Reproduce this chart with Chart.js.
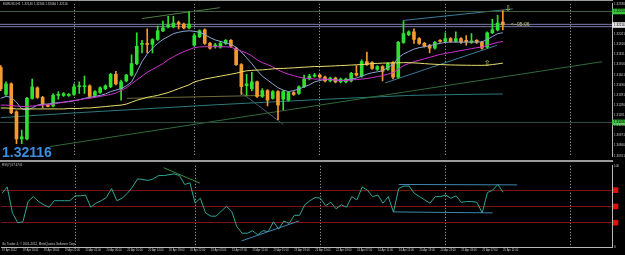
<!DOCTYPE html>
<html>
<head>
<meta charset="utf-8">
<script src="https://cdn.jsdelivr.net/npm/chart.js@4.4.0/dist/chart.umd.min.js"></script>
<style>
  html, body { margin: 0; padding: 0; background: #000; }
  #wrap { position: relative; width: 625px; height: 255px; overflow: hidden; background: #000; }
  #top { position: absolute; left: 0; top: 0; }
  #bot { position: absolute; left: 0; top: 162px; }
  .sep { position: absolute; left: 0; width: 613px; background: #9a9a9a; }
</style>
</head>
<body>
<div id="wrap">
  <canvas id="top" width="625" height="160"></canvas>
  <div class="sep" style="top:0;height:1px"></div>
  <div class="sep" style="top:160px;height:2px"></div>
  <canvas id="bot" width="625" height="93"></canvas>
</div>
<script>
// EURUSD H1, 19 Apr 2012 10:00 .. 25 Apr 2012 11:00 (one entry per bar)
const symbol = 'EURUSD,H1';
const opens = [1.31676,1.31396,1.31506,1.31216,1.30936,1.30936,1.31356,1.31466,1.31366,1.31286,
  1.31276,1.31386,1.31386,1.31386,1.31396,1.31476,1.31476,1.31486,1.31386,1.31416,
  1.31456,1.31476,1.31606,1.31456,1.31536,1.31596,1.31716,1.31916,1.31926,1.31916,
  1.31966,1.32056,1.32096,1.32096,1.32136,1.32126,1.32086,1.31906,1.31996,1.32066,
  1.31926,1.31896,1.31886,1.31926,1.31956,1.31876,1.31706,1.31486,1.31456,1.31526,
  1.31376,1.31436,1.31356,1.31426,1.31346,1.31336,1.31416,1.31406,1.31476,1.31556,
  1.31586,1.31596,1.31576,1.31536,1.31566,1.31526,1.31526,1.31536,1.31616,1.31586,
  1.31736,1.31726,1.31656,1.31686,1.31656,1.31726,1.31576,1.31936,1.32016,1.32046,
  1.31976,1.31926,1.31906,1.31876,1.31956,1.31946,1.31976,1.31946,1.31976,1.31956,
  1.31936,1.31956,1.31936,1.31886,1.32036,1.32066,1.32146];
const highs = [1.31696,1.31526,1.31516,1.31226,1.31026,1.31366,1.31556,1.31476,1.31376,1.31296,
  1.31406,1.31426,1.31416,1.31406,1.31506,1.31526,1.31586,1.31496,1.31436,1.31476,
  1.31496,1.31616,1.31636,1.31546,1.31606,1.31806,1.32036,1.31956,1.32076,1.31976,
  1.32106,1.32156,1.32206,1.32206,1.32156,1.32136,1.32256,1.32026,1.32066,1.32076,
  1.31936,1.31926,1.31946,1.31966,1.31966,1.31886,1.31716,1.31606,1.31626,1.31536,
  1.31456,1.31446,1.31436,1.31436,1.31436,1.31426,1.31426,1.31486,1.31596,1.31606,
  1.31616,1.31606,1.31586,1.31576,1.31576,1.31566,1.31566,1.31626,1.31696,1.31756,
  1.31836,1.31736,1.31696,1.31696,1.31726,1.31736,1.31946,1.32156,1.32056,1.32076,
  1.31986,1.31936,1.31916,1.31946,1.31966,1.32036,1.31986,1.32046,1.31986,1.32006,
  1.32026,1.31966,1.31946,1.32046,1.32176,1.32216,1.32266];
const lows = [1.31436,1.31386,1.31196,1.30886,1.30886,1.30926,1.31346,1.31356,1.31256,1.31266,
  1.31266,1.31346,1.31376,1.31376,1.31386,1.31406,1.31406,1.31366,1.31376,1.31406,
  1.31446,1.31466,1.31496,1.31336,1.31526,1.31586,1.31706,1.31826,1.31826,1.31826,
  1.31956,1.32046,1.32086,1.32086,1.32076,1.32076,1.32076,1.31896,1.31986,1.31916,
  1.31866,1.31876,1.31876,1.31916,1.31886,1.31696,1.31396,1.31386,1.31436,1.31366,
  1.31366,1.31276,1.31346,1.31136,1.31236,1.31326,1.31386,1.31396,1.31466,1.31546,
  1.31576,1.31566,1.31526,1.31526,1.31516,1.31516,1.31516,1.31526,1.31586,1.31576,
  1.31696,1.31656,1.31646,1.31536,1.31646,1.31556,1.31566,1.31926,1.32006,1.31926,
  1.31916,1.31886,1.31826,1.31866,1.31936,1.31936,1.31936,1.31936,1.31926,1.31906,
  1.31926,1.31926,1.31866,1.31876,1.32026,1.32056,1.32066];
const closes = [1.31456,1.31506,1.31206,1.30936,1.30956,1.31356,1.31476,1.31366,1.31296,1.31271,
  1.31386,1.31396,1.31406,1.31396,1.31476,1.31486,1.31486,1.31376,1.31426,1.31466,
  1.31486,1.31606,1.31506,1.31526,1.31596,1.31716,1.31896,1.31926,1.31916,1.31966,
  1.32056,1.32086,1.32116,1.32136,1.32131,1.32086,1.32126,1.32006,1.32056,1.31926,
  1.31876,1.31911,1.31926,1.31956,1.31896,1.31706,1.31476,1.31506,1.31526,1.31376,
  1.31436,1.31336,1.31426,1.31286,1.31426,1.31416,1.31396,1.31476,1.31556,1.31586,
  1.31596,1.31576,1.31536,1.31566,1.31526,1.31556,1.31556,1.31616,1.31596,1.31736,
  1.31706,1.31666,1.31686,1.31636,1.31716,1.31576,1.31936,1.32026,1.32046,1.31966,
  1.31926,1.31896,1.31876,1.31936,1.31946,1.31976,1.31946,1.31976,1.31936,1.31941,
  1.31951,1.31936,1.31876,1.32036,1.32066,1.32136,1.32116];

// moving averages
const fastMa = [1.31356,1.31376,1.31366,1.31316,1.31246,1.31236,1.31256,1.31286,1.31296,1.31296,
  1.31306,1.31311,1.31316,1.31321,1.31331,1.31341,1.31356,1.31366,1.31376,1.31386,
  1.31401,1.31426,1.31441,1.31456,1.31486,1.31526,1.31626,1.31736,1.31816,1.31876,
  1.31926,1.31966,1.31996,1.32026,1.32041,1.32051,1.32056,1.32051,1.32041,1.32016,
  1.31986,1.31961,1.31946,1.31931,1.31916,1.31886,1.31836,1.31776,1.31716,1.31646,
  1.31586,1.31546,1.31506,1.31466,1.31441,1.31426,1.31436,1.31451,1.31476,1.31496,
  1.31526,1.31541,1.31551,1.31551,1.31546,1.31541,1.31546,1.31556,1.31566,1.31586,
  1.31606,1.31621,1.31631,1.31641,1.31676,1.31706,1.31776,1.31816,1.31841,1.31866,
  1.31881,1.31891,1.31901,1.31916,1.31926,1.31936,1.31939,1.31939,1.31939,1.31939,
  1.31939,1.31939,1.31941,1.31966,1.31996,1.32026,1.32036];
const midMa = [1.31286,1.31286,1.31281,1.31276,1.31271,1.31271,1.31276,1.31281,1.31286,1.31291,
  1.31296,1.31306,1.31316,1.31326,1.31331,1.31341,1.31351,1.31356,1.31366,1.31376,
  1.31386,1.31396,1.31411,1.31436,1.31466,1.31506,1.31546,1.31586,1.31626,1.31656,
  1.31686,1.31716,1.31756,1.31786,1.31816,1.31841,1.31861,1.31881,1.31889,1.31891,
  1.31891,1.31891,1.31891,1.31891,1.31886,1.31866,1.31846,1.31826,1.31796,1.31756,
  1.31726,1.31706,1.31681,1.31651,1.31626,1.31606,1.31591,1.31576,1.31566,1.31561,
  1.31556,1.31556,1.31556,1.31551,1.31546,1.31541,1.31541,1.31546,1.31551,1.31556,
  1.31561,1.31571,1.31581,1.31591,1.31606,1.31621,1.31656,1.31696,1.31716,1.31736,
  1.31751,1.31766,1.31781,1.31796,1.31811,1.31821,1.31831,1.31841,1.31851,1.31861,
  1.31871,1.31881,1.31886,1.31906,1.31921,1.31936,1.31946];
const slowMa = [1.31256,1.31256,1.31251,1.31246,1.31246,1.31246,1.31246,1.31246,1.31246,1.31246,
  1.31246,1.31246,1.31246,1.31251,1.31251,1.31251,1.31256,1.31256,1.31261,1.31266,
  1.31271,1.31276,1.31281,1.31286,1.31296,1.31316,1.31336,1.31351,1.31366,1.31376,
  1.31386,1.31401,1.31416,1.31436,1.31456,1.31476,1.31496,1.31526,1.31541,1.31556,
  1.31566,1.31576,1.31586,1.31596,1.31606,1.31616,1.31631,1.31641,1.31646,1.31649,
  1.31651,1.31656,1.31661,1.31666,1.31666,1.31669,1.31672,1.31676,1.31679,1.31682,
  1.31686,1.31686,1.31688,1.31690,1.31693,1.31696,1.31698,1.31701,1.31704,1.31706,
  1.31711,1.31716,1.31718,1.31721,1.31722,1.31723,1.31724,1.31726,1.31726,1.31723,
  1.31720,1.31716,1.31712,1.31709,1.31706,1.31704,1.31702,1.31701,1.31700,1.31699,
  1.31698,1.31698,1.31698,1.31700,1.31706,1.31713,1.31721];
const longMaBars = [0, 16, 40, 60, 78, 88, 96];
const longMa = [1.31156, 1.31211, 1.31286, 1.31341, 1.31386, 1.31396, 1.31401];

// RSI(7)
const rsi = [66,74,42,30,31,56,62,56,52,49,
  57,57,57,57,63,63,64,49,54,57,
  61,72,57,60,66,74,84,83,82,84,
  88,88,89,90,88,77,79,54,60,42,
  38,38,44,50,44,25,17,17,20,15,
  20,19,31,22,32,29,39,39,52,57,
  61,60,51,55,47,52,49,62,58,74,
  70,62,64,54,62,43,72,75,75,66,
  62,58,54,62,62,64,60,63,55,56,
  56,55,42,67,70,77,67.4741];
const rsiLevels = [30, 50, 70];
const rsiTicks = [0, 30, 50, 70, 100];

// drawn objects: [bar, value]
const trendTopLeft = [[27, 1.32183], [41.9, 1.32296]];
const channelUpper = [[76.9, 1.32163], [97.9, 1.32283]];
const channelLower = [[73.5, 1.31516], [94.9, 1.31906]];
const longSupport = [[9.4, 1.30856], [115, 1.31736]];
const oliveLine = [[24.1, 1.31356], [50.5, 1.31386]];
const grayLine = [[45.7, 1.31426], [54, 1.31086]];
const levelTop = 1.32256;
const askLine = 1.32123;
const bidLine = 1.32099;
const levelLow = 1.31106;
const rsiTrendDown = [[31, 97.6], [37.9, 78.6]];
const rsiTrendUp = [[45.9, 7.5], [56.9, 32.1]];
const rsiBoxTop = [[76, 77], [98.7, 76.5]];
const rsiBoxBottom = [[75, 43.2], [94, 42]];
const arrowBars = [97, 93];
const arrowPrices = [1.32286, 1.31716];
const arrowGlyphs = ['\u21E9', '\u21E7'];
const timerText = '<--05:06';

// axis labels
const priceTicks = [1.32336, 1.32256, 1.32116, 1.32021, 1.31916, 1.31811, 1.31706, 1.31601,
  1.31496, 1.31391, 1.31286, 1.31181, 1.31106, 1.31076, 1.30971, 1.30866, 1.30761];
const labelStep = 4;
const timeLabels = ['19 Apr 2012', '19 Apr 14:00', '19 Apr 18:00', '19 Apr 22:00',
  '20 Apr 02:00', '20 Apr 06:00', '20 Apr 10:00', '20 Apr 14:00', '20 Apr 18:00', '20 Apr 22:00',
  '23 Apr 03:00', '23 Apr 07:00', '23 Apr 11:00', '23 Apr 15:00', '23 Apr 19:00', '23 Apr 23:00',
  '24 Apr 03:00', '24 Apr 07:00', '24 Apr 11:00', '24 Apr 15:00', '24 Apr 19:00', '24 Apr 23:00',
  '25 Apr 03:00', '25 Apr 07:00', '25 Apr 11:00'];
const dayBars = [14, 37, 61, 85, 109];

const family = '"Liberation Sans", Arial, sans-serif';
const xMin = -0.153, xMax = 116.87;
const priceMin = 1.30756, priceMax = 1.32336;
const bull = '#30e030', bear = '#f39a30';
const last = closes.length - 1;
const bars = closes.map((_, i) => i);

const candleColor = ctx => closes[ctx.dataIndex] >= opens[ctx.dataIndex] ? bull : bear;
const pairs = pts => pts.map(p => ({ x: p[0], y: p[1] }));
const flat = v => [{ x: xMin, y: v }, { x: xMax, y: v }];
const line = (data, color, order) => ({
  type: 'line', data, borderColor: color, borderWidth: 1,
  pointRadius: 0, tension: 0, order: order === undefined ? 0 : order
});

const gridAxis = () => ({
  type: 'linear', position: 'bottom', min: xMin, max: xMax, offset: false,
  afterBuildTicks: s => { s.ticks = dayBars.map(v => ({ value: v })); },
  afterFit: s => { s.height = 0; },
  ticks: { display: false },
  grid: { display: true, drawOnChartArea: true, color: '#b4b4b4', lineWidth: 1, drawTicks: false, offset: false },
  border: { display: false, dash: [1, 2] }
});

const topText = {
  id: 'topText',
  afterDatasetsDraw(chart) {
    const { ctx, scales: { x, y } } = chart;
    ctx.save();
    ctx.textAlign = 'left';
    ctx.textBaseline = 'top';
    ctx.fillStyle = '#c8c8c8';
    ctx.font = '3px ' + family;
    const ohlc = [opens[last], highs[last], lows[last], closes[last]].map(v => v.toFixed(5)).join(' ');
    ctx.fillText(symbol + '  ' + ohlc, 3, 3);

    ctx.textBaseline = 'middle';
    ctx.fillStyle = '#c9c97c';
    ctx.font = '5px ' + family;
    ctx.fillText(timerText, x.getPixelForValue(last + 1.5), y.getPixelForValue(closes[last]) - 0.5);

    ctx.textAlign = 'center';
    ctx.fillStyle = '#d2d24a';
    ctx.font = '8px "DejaVu Sans"';
    arrowBars.forEach((b, k) => {
      ctx.fillText(arrowGlyphs[k], x.getPixelForValue(b), y.getPixelForValue(arrowPrices[k]));
    });

    ctx.textAlign = 'left';
    ctx.textBaseline = 'alphabetic';
    ctx.fillStyle = '#3b8ee0';
    ctx.font = 'bold 14px ' + family;
    ctx.fillText(closes[last].toFixed(5), 2, 157);
    ctx.restore();
  }
};

const boxColor = v => v === levelTop || v === levelLow ? '#3cc43c' : v === closes[last] ? '#e6e6e6' : null;

new Chart(document.getElementById('top'), {
  type: 'bar',
  data: {
    datasets: [
      line(flat(levelTop), '#3d5f3d', 4),
      line(flat(askLine), '#7c7ca8', 4),
      line(flat(bidLine), '#7c7ca8', 4),
      line(flat(levelLow), '#2f5040', 4),
      line(pairs(longSupport), '#2f6a38', 4),
      line(pairs(oliveLine), '#6e6a38', 4),
      line(pairs(grayLine), '#4a5a6c', 4),
      line(pairs(trendTopLeft), '#4f7a3e', 4),
      line(pairs(channelUpper), '#3a7c98', 4),
      line(pairs(channelLower), '#3a7c98', 4),
      line(longMaBars.map((b, k) => ({ x: b, y: longMa[k] })), '#2a7a7c', 4),
      {
        type: 'bar', data: bars.map(i => ({ x: i, y: [lows[i], highs[i]] })),
        backgroundColor: candleColor, barThickness: 1, grouped: false, order: 3
      },
      {
        type: 'bar', data: bars.map(i => ({ x: i, y: [opens[i], closes[i]] })),
        backgroundColor: candleColor, barThickness: 3, minBarLength: 1, grouped: false, order: 2
      },
      line(bars.map(i => ({ x: i, y: slowMa[i] })), '#e6df6a', 1),
      line(bars.map(i => ({ x: i, y: midMa[i] })), '#cc33cc', 1),
      line(bars.map(i => ({ x: i, y: fastMa[i] })), '#8ca3d6', 1)
    ]
  },
  options: {
    responsive: false, animation: false, devicePixelRatio: 1, events: [],
    layout: { padding: { top: 2, left: 0, right: 0, bottom: 0 }, autoPadding: false },
    plugins: { legend: { display: false }, tooltip: { enabled: false } },
    scales: {
      x: gridAxis(),
      y: {
        type: 'linear', position: 'right', min: priceMin, max: priceMax,
        afterBuildTicks: s => { s.ticks = priceTicks.map(v => ({ value: v })); },
        afterFit: s => { s.width = 13; },
        grid: { display: false, drawTicks: false },
        border: { display: true, color: '#b8b8b8', width: 1 },
        ticks: {
          autoSkip: false, padding: 2, font: { size: 3, family },
          color: ctx => boxColor(ctx.tick.value) ? '#000' : '#c8c8c8',
          showLabelBackdrop: ctx => !!boxColor(ctx.tick.value),
          backdropColor: ctx => boxColor(ctx.tick.value) || 'rgba(0,0,0,0)',
          backdropPadding: { x: 2, y: 1 },
          callback: v => v.toFixed(5)
        }
      }
    }
  },
  plugins: [topText]
});

const botText = {
  id: 'botText',
  afterDatasetsDraw(chart) {
    const { ctx } = chart;
    ctx.save();
    ctx.textAlign = 'left';
    ctx.textBaseline = 'top';
    ctx.fillStyle = '#c8c8c8';
    ctx.font = '3px ' + family;
    ctx.fillText('RSI(7) ' + rsi[last].toFixed(4), 2, 2);
    ctx.textBaseline = 'bottom';
    ctx.fillText('Go Trader 4, \u00A9 2001-2012, MetaQuotes Software Corp.', 2, 84);
    ctx.restore();
  }
};

new Chart(document.getElementById('bot'), {
  type: 'line',
  data: {
    datasets: [
      line(pairs(rsiTrendDown), '#3e8e3e'),
      line(pairs(rsiTrendUp), '#3f86b0'),
      line(pairs(rsiBoxTop), '#3f86b0'),
      line(pairs(rsiBoxBottom), '#3f86b0'),
      line(bars.map(i => ({ x: i, y: rsi[i] })), '#2fa596')
    ]
  },
  options: {
    responsive: false, animation: false, devicePixelRatio: 1, events: [],
    layout: { padding: { top: 1, left: 0, right: 0, bottom: 0 }, autoPadding: false },
    plugins: { legend: { display: false }, tooltip: { enabled: false } },
    scales: {
      x: {
        type: 'linear', position: 'bottom', min: xMin, max: xMax, offset: false,
        afterBuildTicks: s => { s.ticks = timeLabels.map((t, k) => ({ value: k * labelStep })); },
        afterFit: s => { s.height = 8; },
        grid: { display: false, drawTicks: false },
        border: { display: true, color: '#b8b8b8' },
        ticks: {
          autoSkip: false, maxRotation: 0, minRotation: 0, align: 'start', padding: 2,
          font: { size: 2.7, family }, color: '#c8c8c8',
          callback: (v, k) => timeLabels[k]
        }
      },
      xg: gridAxis(),
      y: {
        type: 'linear', position: 'right', min: 0, max: 100,
        afterBuildTicks: s => { s.ticks = rsiTicks.map(v => ({ value: v })); },
        afterFit: s => { s.width = 13; },
        grid: {
          drawTicks: false,
          color: ctx => rsiLevels.includes(ctx.tick && ctx.tick.value) ? '#7a1414' : 'rgba(0,0,0,0)'
        },
        border: { display: true, color: '#b8b8b8', width: 1 },
        ticks: {
          autoSkip: false, padding: 2, font: { size: 3, family },
          color: ctx => rsiLevels.includes(ctx.tick.value) ? '#e01010' : '#c8c8c8',
          showLabelBackdrop: ctx => rsiLevels.includes(ctx.tick.value),
          backdropColor: '#e01010',
          backdropPadding: { x: 1, y: 1 }
        }
      }
    }
  },
  plugins: [botText]
});
</script>
</body>
</html>
